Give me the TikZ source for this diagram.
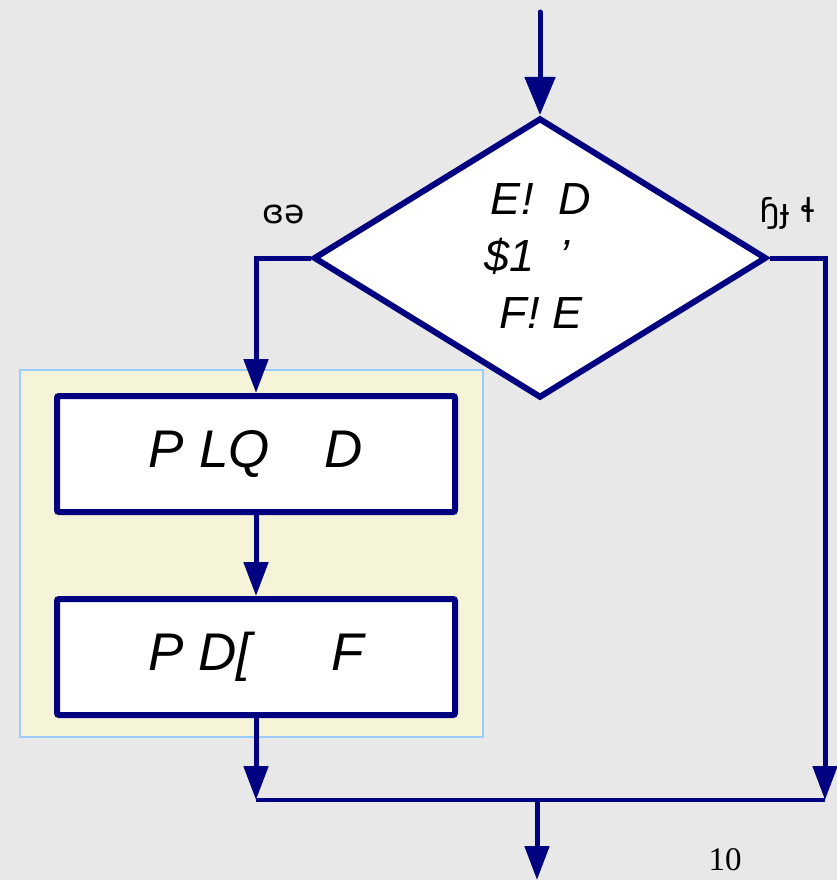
\documentclass[tikz,border=0pt]{standalone}
\usepackage{fontspec}
\setmainfont{Liberation Sans}
\newfontfamily\ipafont{DejaVu Sans}
\newfontfamily\seriffont{Liberation Serif}
\usetikzlibrary{shapes.geometric,arrows.meta}
\definecolor{navy}{RGB}{0,0,128}
\definecolor{bg}{RGB}{232,232,232}
\definecolor{panel}{RGB}{246,244,216}
\definecolor{panelborder}{RGB}{153,204,255}
\tikzset{
  conn/.style={draw=navy, line width=5pt, -{Triangle[length=34pt,width=24pt]}},
  topconn/.style={draw=navy, line width=5pt, line cap=round, -{Triangle[length=38pt,width=30pt]}},
  bus/.style={draw=navy, line width=4pt},
  stepbox/.style={draw=navy, line width=6pt, fill=white, rounded corners=2pt, minimum width=398pt, minimum height=116pt, inner sep=0pt, font=\fontsize{53}{60}\selectfont\itshape},
  dtext/.style={font=\fontsize{45}{50}\selectfont\itshape, inner sep=0pt},
  lbl/.style={font=\ipafont\fontsize{33}{38}\selectfont, inner sep=0pt}
}
\begin{document}
\begin{tikzpicture}[x=1pt,y=-1pt]
\path[fill=bg] (0,0) rectangle (837,880);
\useasboundingbox (0,0) rectangle (837,880);
\node[draw=panelborder, line width=1.2pt, fill=panel, minimum width=463pt, minimum height=367pt, inner sep=0pt] (panel) at (251.5,553.5) {};
\node[draw=navy, line width=6pt, fill=white, diamond, minimum width=453pt, minimum height=280pt, inner sep=0pt] (d) at (540,258) {};
\node[dtext] (t1) at (541,199) {E!\ \ D};
\node[dtext] (t2) at (527,256) {\$1 \ '};
\node[dtext] (t3) at (541,313) {F! E};
\node[lbl] (yes) at (284,214) {ɞə};
\node[lbl] (no) at (788,213) {ɧɟ ɬ};
\node[stepbox] (b1) at (256,454) {P LQ\hspace{55pt}D};
\node[stepbox] (b2) at (256,657) {P D[\hspace{80pt}F};
\coordinate (in) at (540,12);
\coordinate (lb) at (256,800);
\coordinate (rb) at (825,800);
\coordinate (mid) at (537,800);
\coordinate (out) at (537,880);
\draw[topconn] (in) -- (d.north);
\draw[conn] (d.west) -| (b1.north);
\draw[conn] (d.east) -| (rb);
\draw[conn] (b1.south) -- (b2.north);
\draw[conn] (b2.south) -- (lb);
\draw[bus] (lb) -- (rb);
\draw[conn] (mid) -- (out);
\node[font=\seriffont\fontsize{33}{36}\selectfont, inner sep=0pt] (page) at (725,860) {10};
\end{tikzpicture}
\end{document}
